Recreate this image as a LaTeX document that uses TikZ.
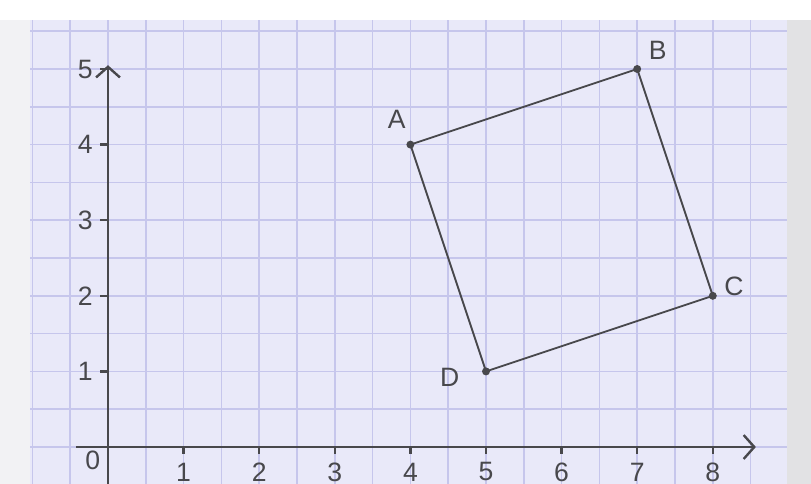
\documentclass[tikz,border=0pt]{standalone}
\usepackage{fontspec}
\setsansfont{Liberation Sans}
\usetikzlibrary{arrows.meta}
\definecolor{paper}{RGB}{233,233,249}
\definecolor{gridblue}{RGB}{198,198,236}
\definecolor{ink}{RGB}{72,72,76}
\definecolor{desk}{RGB}{226,226,228}
\definecolor{edge}{RGB}{242,242,244}

\begin{document}
\begin{tikzpicture}[
    every node/.style={font=\sffamily\fontsize{10}{12}\selectfont, text=ink},
    gridline/.style={draw=gridblue, line width=0.55pt},
    axis/.style={draw=ink, line width=0.9pt, -{Straight Barb[length=4pt,width=9pt]}},
    tick/.style={draw=ink, line width=0.9pt},
    side/.style={draw=ink, line width=0.7pt},
    vertex/.style={circle, fill=ink, inner sep=0pt, minimum size=3pt}
]
% --- frame: 811x484 px, 1 unit = 75.6 px, origin at (108,447)
\useasboundingbox (-1.4286,-0.489) rectangle (9.299,5.913);
\fill[edge] (-1.4286,-0.489) rectangle (-1.03,5.65);
\fill[desk] (8.98,-0.489) rectangle (9.299,5.65);
\fill[white] (-1.4286,5.65) rectangle (9.299,5.913);

% --- squared paper
\fill[paper] (-1.03,-0.489) rectangle (8.98,5.65);
\foreach \x in {-1,-0.5,...,8.5}
  \draw[gridline] (\x,-0.489) -- (\x,5.65);
\foreach \y in {0,0.5,...,5.5}
  \draw[gridline] (-1.03,\y) -- (8.98,\y);

% --- axes
\coordinate (xstart) at (-0.42,0);
\coordinate (xend) at (8.57,0);
\coordinate (ystart) at (0,-0.489);
\coordinate (yend) at (0,5.05);
\draw[axis] (xstart) -- (xend);
\draw[axis] (ystart) -- (yend);

% ticks and numbers
\foreach \x in {1,...,8} {
  \draw[tick] (\x,0) -- (\x,-0.09);
  \node (xl\x) at (\x,-0.33) {\x};
}
\foreach \y in {1,...,5} {
  \draw[tick] (-0.1,\y) -- (0,\y);
  \node (yl\y) at (-0.3,\y) {\y};
}
\node (zero) at (-0.2,-0.17) {0};

% --- the square ABCD
\node[vertex] (A) at (4,4) {};
\node[vertex] (B) at (7,5) {};
\node[vertex] (C) at (8,2) {};
\node[vertex] (D) at (5,1) {};
\draw[side] (A.center) -- (B.center) -- (C.center) -- (D.center) -- cycle;

\node (Alab) at (3.82,4.33) {A};
\node (Blab) at (7.27,5.25) {B};
\node (Clab) at (8.28,2.13) {C};
\node (Dlab) at (4.52,0.92) {D};
\end{tikzpicture}
\end{document}
